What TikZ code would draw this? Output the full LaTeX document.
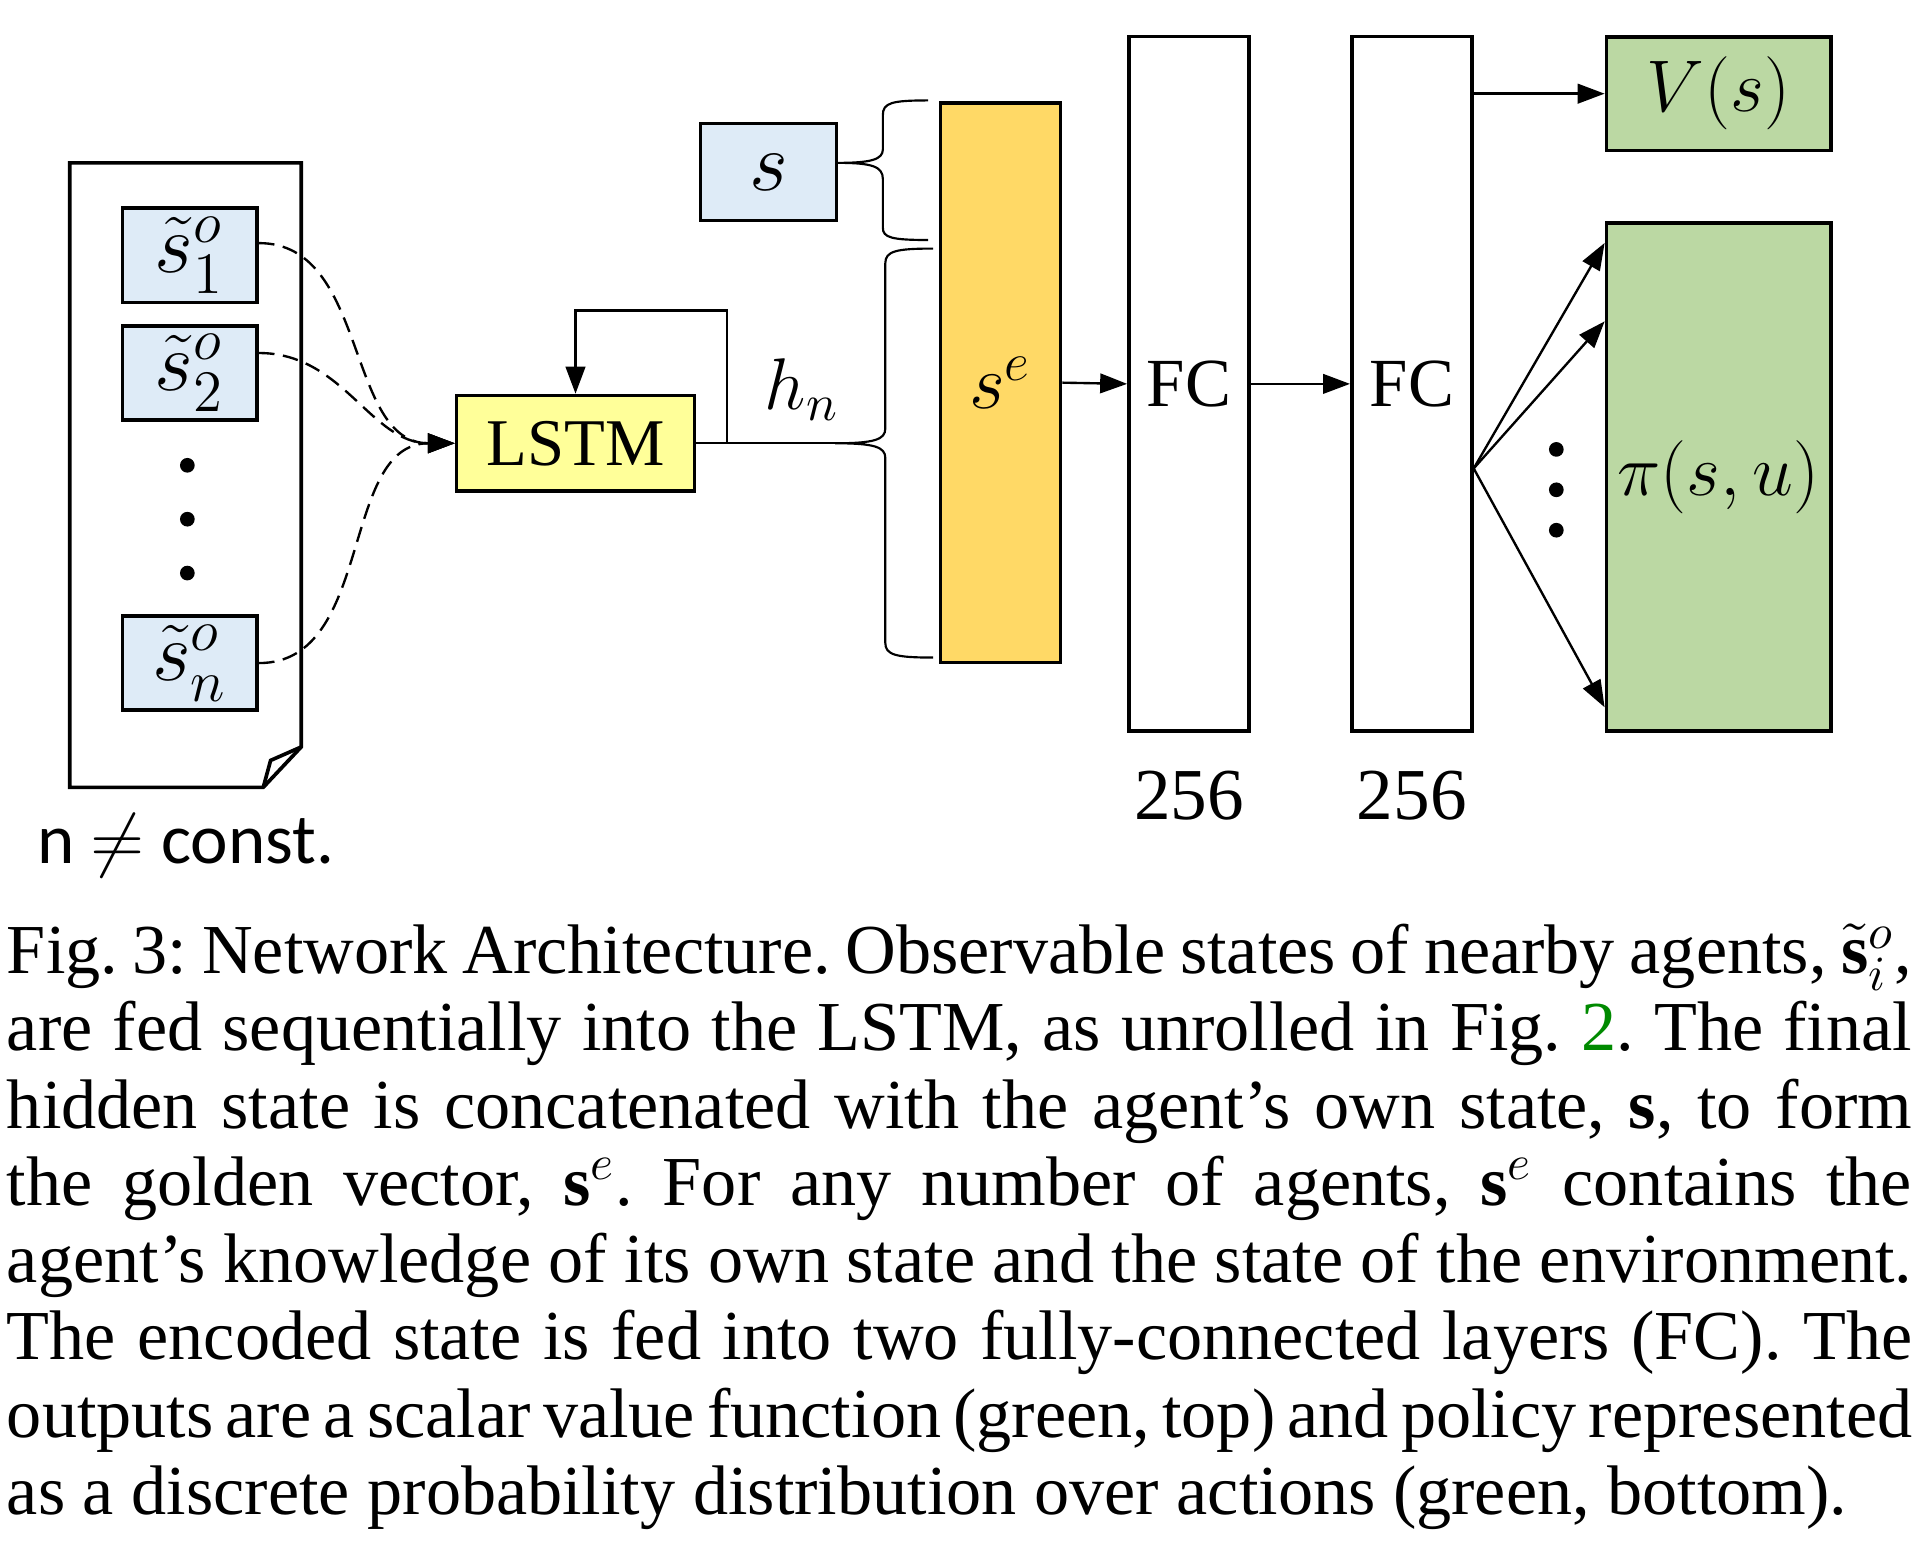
\documentclass[tikz,border=0pt]{standalone}
\usepackage{fix-cm}
\usepackage{fontspec}
\setmainfont{Liberation Serif}
\newfontfamily\calfont{Carlito}
\usetikzlibrary{arrows.meta,positioning}
\definecolor{obsblue}{HTML}{DEEBF7}
\definecolor{lstmyellow}{HTML}{FFFF99}
\definecolor{gold}{HTML}{FFD966}
\definecolor{outgreen}{HTML}{BBD8A3}
\definecolor{refgreen}{HTML}{008A00}
\newcommand{\capline}[1]{\makebox[15.55cm][s]{#1}\\}

\begin{document}
\frenchspacing
\begin{tikzpicture}[x=0.01cm, y=-0.01cm,
  box/.style={draw, line width=0.85pt, inner sep=0pt},
  obs/.style={box, fill=obsblue, minimum width=1.1cm, minimum height=0.77cm, font=\fontsize{19.5}{22}\selectfont},
  layer/.style={box, minimum width=0.98cm, minimum height=5.67cm, font=\fontsize{16}{19}\selectfont},
  outbox/.style={box, fill=outgreen, minimum width=1.83cm, font=\fontsize{17}{20}\selectfont},
  lbl/.style={inner sep=0pt, font=\fontsize{17}{20}\selectfont},
  arr/.style={line width=0.55pt, -{Triangle[length=0.22cm,width=0.16cm]}},
  obsarr/.style={arr, dash pattern=on 3.6pt off 2pt},
]
\useasboundingbox (0,0) rectangle (1568,1263);

% sheet with the observed agents
\draw[line width=0.85pt] (57,133) -- (246,133) -- (246,610) -- (215,643) -- (57,643) -- cycle;
\draw[line width=0.85pt] (215,643) -- (221,621) -- (246,610);

\node[obs] (s1) at (155,208.5) {$\tilde{s}^o_1$};
\node[obs] (s2) at (155,304.5) {$\tilde{s}^o_2$};
\node[obs] (sn) at (155,541.5) {$\tilde{s}^o_n$};
\foreach \y in {380,424,468} \fill (153,\y) circle (0.06cm);

\node[lbl, anchor=base west, font=\calfont\fontsize{16.5}{19}\selectfont] (nconst) at (30,705) {n $\neq$ const.};

% lstm
\node[box, fill=lstmyellow, minimum width=1.94cm, minimum height=0.78cm, font=\fontsize{15.5}{19}\selectfont] (lstm) at (470,362) {LSTM};
\node[lbl] (hn) at (655,318) {$h_n$};

\draw[obsarr] (s1.10) to[out=0,in=180] (lstm.west);
\draw[obsarr] (s2.16) to[out=0,in=180] (lstm.west);
\draw[obsarr] (sn.east) to[out=0,in=180] (lstm.west);
\draw[arr] (lstm.east) -- ++(25,0) |- ([yshift=0.68cm]lstm.north) -- (lstm.north);

% own state and encoded state
\node[obs, minimum width=1.11cm, minimum height=0.79cm] (s) at (627.5,140.5) {$s$};
\node[box, fill=gold, minimum width=0.98cm, minimum height=4.57cm, font=\fontsize{18}{21}\selectfont] (se) at (817,312.5) {$s^e$};

\coordinate (tipB) at (682,362);
\draw[line width=0.5pt] (lstm.east) -- (tipB);
\draw[line width=0.5pt] (758,82) .. controls (728,82) and (721,84) .. (721,94) -- (721,122)
  .. controls (721,130) and (712,133) .. (s.east |- 0,133)
  .. controls (712,133) and (721,136) .. (721,146) -- (721,186)
  .. controls (721,194) and (728,196) .. (758,196);
\draw[line width=0.5pt] (762,203) .. controls (732,203) and (723,205) .. (723,215) -- (723,350)
  .. controls (723,359) and (714,362) .. (tipB)
  .. controls (714,362) and (723,365) .. (723,374) -- (723,525)
  .. controls (723,535) and (732,537) .. (762,537);

% fully connected layers
\node[layer] (fc1) at (971,313.5) {FC};
\node[layer] (fc2) at (1153,313.5) {FC};
\node[lbl, below=0.3cm of fc1] (w1) {256};
\node[lbl, below=0.3cm of fc2] (w2) {256};

\draw[arr] (se.east) -- (fc1.west);
\draw[arr] (fc1.east) -- (fc2.west);

% outputs
\node[outbox, minimum height=0.93cm] (vs) at (1403.5,76.5) {$V(s)$};
\node[outbox, minimum height=4.15cm] (pi) at (1403.5,389.5) {$\pi(s,u)$};

\draw[arr] (fc2.east |- vs.west) -- (vs.west);
\coordinate (fan) at ([yshift=-0.69cm]fc2.east);
\draw[arr] (fan) -- ([yshift=-0.18cm]pi.north west);
\draw[arr] (fan) -- ([yshift=-0.82cm]pi.north west);
\draw[arr] (fan) -- ([yshift=0.21cm]pi.south west);
\foreach \y in {367,400,433} \fill (1271,\y) circle (0.06cm);

% caption
\node[anchor=base west, text width=15.9cm, align=left, inner sep=0pt,
  font=\fontsize{16.3}{17.95}\selectfont] (cap) at (5,795) {%
\spaceskip=0.25em plus 0.35em minus 0.14em\relax
\capline{Fig. 3: Network Architecture. Observable states of nearby agents, $\tilde{\mathbf{s}}_i^o$,}
\capline{are fed sequentially into the LSTM, as unrolled in Fig.~\textcolor{refgreen}{2}. The final}
\capline{hidden state is concatenated with the agent's own state, $\mathbf{s}$, to form}
\capline{the golden vector, $\mathbf{s}^e$. For any number of agents, $\mathbf{s}^e$ contains the}
\capline{agent's knowledge of its own state and the state of the environment.}
\capline{The encoded state is fed into two fully-connected layers (FC). The}
\capline{outputs are a scalar value function (green, top) and policy represented}
\mbox{as a discrete probability distribution over actions (green, bottom).}};

\end{tikzpicture}
\end{document}
